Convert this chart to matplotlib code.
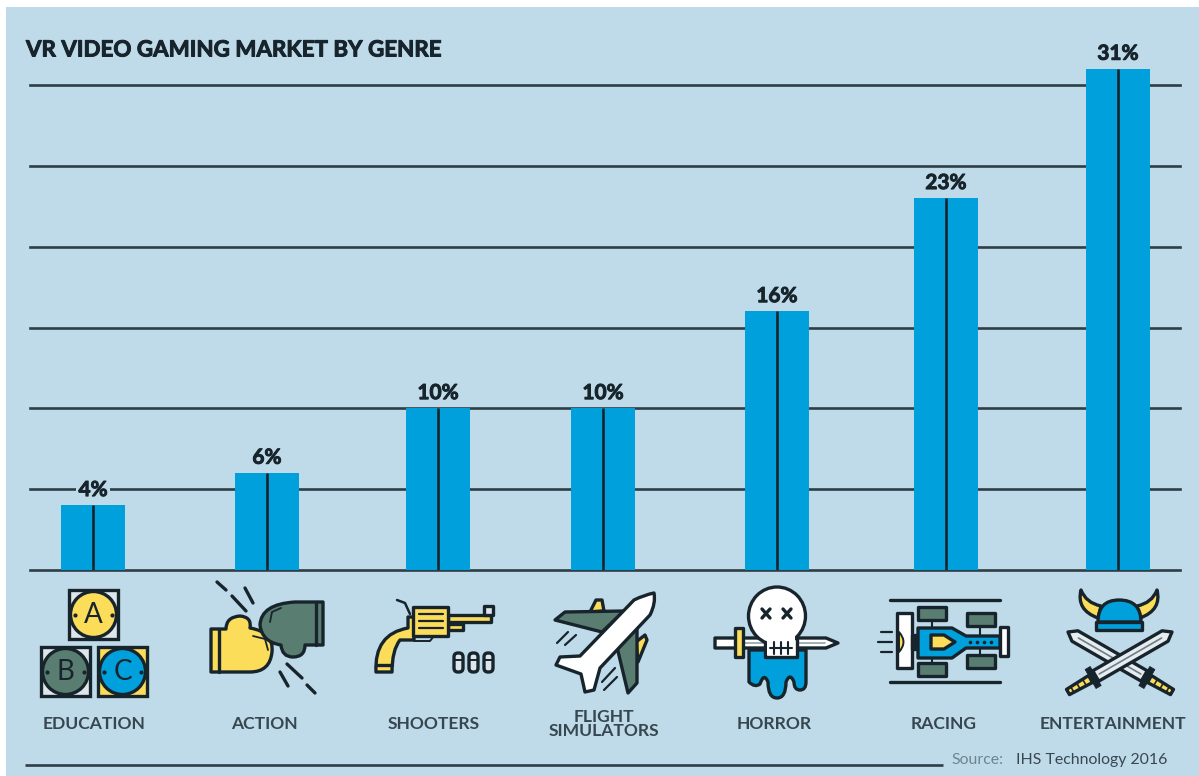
import numpy as np
import matplotlib
matplotlib.use("Agg")
import matplotlib.pyplot as plt
import matplotlib.patheffects as pe
from matplotlib.patches import Rectangle, Polygon, Circle, Ellipse, PathPatch, FancyBboxPatch
from matplotlib.path import Path

plt.rcParams['font.family'] = ['Lato', 'DejaVu Sans']

#chart data
genres = ["EDUCATION", "ACTION", "SHOOTERS", "FLIGHT\nSIMULATORS", "HORROR", "RACING", "ENTERTAINMENT"]
shares = [4, 6, 10, 10, 16, 23, 31]
grid_values = [0, 5, 10, 15, 20, 25, 30]
title = "VR VIDEO GAMING MARKET BY GENRE"

#layout, in pixels of the reference
bar_centers = [93, 267, 438, 603, 777, 946, 1118]
label_centers = [94, 264, 434, 604, 774, 944, 1113]

PANEL = "#BFDBEA"
INK = "#17242C"
GRID = "#2E3E46"
BLUE = "#00A0DC"
YELLOW = "#FBDD5A"
GREEN = "#5A7D72"
WHITE = "#FFFFFF"
LW = 2.4

W, H = 1199, 776
fig = plt.figure(figsize=(W / 100, H / 100), dpi=100, facecolor="white")
fig.patches.append(Rectangle((6 / W, 0), (W - 6) / W, (H - 7) / H, transform=fig.transFigure,
                             facecolor=PANEL, edgecolor="none", zorder=-5))

#data axes: value 0 sits at pixel y=570, 16.16 pixels per percent
px_per_pct = 16.16
ax = fig.add_axes([30 / W, (H - 570) / H, 1150 / W, 516 / H])
ax.patch.set_alpha(0)
ax.set_xlim(30, 1180)
ax.set_ylim(0, 516 / px_per_pct)
ax.set_yticks(grid_values)
ax.set_yticklabels([])
ax.set_xticks([])
ax.tick_params(length=0)
ax.grid(axis="y", color=GRID, linewidth=1.9)
ax.set_axisbelow(True)
for gl in ax.yaxis.get_gridlines():
    gl.set_clip_on(False) #the zero line sits on the axes edge
for s in ax.spines.values():
    s.set_visible(False)

heavy = [pe.withStroke(linewidth=0.7, foreground=INK)]

ax.bar(bar_centers, shares, width=64, color=BLUE, zorder=3)
ax.vlines(bar_centers, 0, shares, color=INK, linewidth=1.9, zorder=4)
for x, v in zip(bar_centers, shares):
    ax.annotate(f"{v}%", (x, v), xytext=(0, 11), textcoords="offset points", ha="center", va="center",
                fontsize=15, fontweight="bold", color=INK, zorder=5, path_effects=heavy,
                bbox=dict(facecolor=PANEL, edgecolor="none", pad=1.5))

#overlay axes in reference pixels, for text and icons
ov = fig.add_axes([0, 0, 1, 1])
ov.set_xlim(0, W)
ov.set_ylim(H, 0)
ov.axis("off")
ov.patch.set_alpha(0)

ov.text(26, 50, title, fontsize=16.1, fontweight="bold", color=INK, va="center", ha="left", path_effects=heavy)
for x, g in zip(label_centers, genres):
    ov.text(x, 724, g, fontsize=12.6, fontweight="bold", color="#37474F", ha="center", va="center", linespacing=0.9)

ov.plot([25, 943], [765, 765], color=GRID, lw=1.9, solid_capstyle="butt")
ov.text(951, 760, "Source:", fontsize=11.4, color="#6E8590", va="center", ha="left")
ov.text(1016, 760, "IHS Technology 2016", fontsize=11.4, color="#37474F", va="center", ha="left")


def poly(pts, fc, lw=LW, z=2):
    p = Polygon(pts, closed=True, facecolor=fc, edgecolor=INK, linewidth=lw, joinstyle="round", zorder=z)
    ov.add_patch(p)


def line(pts, lw=LW, c=INK, z=3):
    xs, ys = zip(*pts)
    ov.plot(xs, ys, color=c, lw=lw, solid_capstyle="round", zorder=z)


def curve(start, segs, fc, lw=LW, z=2, close=True):
    #segs are (ctrl, end) for a bezier or (end,) for a straight piece
    verts, codes = [start], [Path.MOVETO]
    for s in segs:
        if len(s) == 1:
            verts.append(s[0])
            codes.append(Path.LINETO)
        else:
            verts += [s[0], s[1]]
            codes += [Path.CURVE3, Path.CURVE3]
    if close:
        verts.append(start)
        codes.append(Path.CLOSEPOLY)
    ov.add_patch(PathPatch(Path(verts, codes), facecolor=fc, edgecolor=INK, linewidth=lw, joinstyle="round", zorder=z))


#education blocks
def block(x, y, corner, fc, letter):
    ov.add_patch(Rectangle((x, y), 49, 49, facecolor=corner, edgecolor=INK, linewidth=LW, zorder=2))
    ov.add_patch(Circle((x + 24.5, y + 24.5), 23, facecolor=fc, edgecolor=INK, linewidth=LW, zorder=3))
    ov.text(x + 24.5, y + 25, letter, fontsize=20, color=INK, ha="center", va="center", zorder=4)
    ov.plot([x + 6, x + 43], [y + 24.5, y + 24.5], ls="none", marker="o", ms=2, color=INK, zorder=4)


block(69, 590, "#DDE6EA", YELLOW, "A")
block(41, 647, "#DDE6EA", GREEN, "B")
block(98, 647, YELLOW, BLUE, "C")

#action gloves
curve((211, 629), [((226, 629),), ((226, 617), (240, 616)), ((252, 617), (250, 628)),
                   ((274, 632), (272, 652)), ((270, 672), (250, 672)), ((211, 672),)], YELLOW)
line([(219, 629), (219, 672)])
curve((323, 602), [((295, 602),), ((261, 604), (260, 625)), ((262, 642), (281, 645)),
                   ((282, 657), (293, 657)), ((305, 657), (305, 645)), ((323, 645),)], GREEN, z=3)
line([(316, 602), (316, 645)], z=4)
line([(270, 622), (272, 612), (281, 608)], lw=1.3, z=4)
line([(253, 636), (265, 639), (268, 650)], lw=1.3, z=4)
for a, b in [((217, 582), (226, 590)), ((232, 596), (246, 611)), ((245, 588), (253, 603)),
             ((287, 664), (302, 678)), ((280, 672), (288, 686)), ((307, 685), (315, 693))]:
    line([a, b])

#revolver
curve((408, 617), [((414, 617),), ((414, 640),), ((400, 640),), ((392, 650), (392, 672)), ((376, 672),),
                   ((374, 634), (408, 628))], YELLOW)
line([(377, 665), (392, 665)])
poly([(448, 615), (491, 615), (491, 622), (448, 622)], YELLOW)
poly([(448, 624), (463, 624), (463, 630), (448, 630)], YELLOW)
poly([(484, 606), (493, 606), (493, 615), (484, 615)], "#DDE6EA")
poly([(413, 607), (448, 607), (448, 636), (413, 636)], YELLOW)
for yy in [614, 621, 628]:
    line([(419, yy), (443, yy)], lw=1.6)
line([(397, 600), (405, 603), (410, 614)], lw=1.8)
line([(414, 641), (430, 641), (434, 636)], lw=1.4)
for bx in [454, 469, 484]:
    ov.add_patch(FancyBboxPatch((bx, 653), 9, 19, boxstyle="round,pad=0,rounding_size=4", facecolor="#DDE6EA",
                                edgecolor=INK, linewidth=LW, zorder=2))
    line([(bx, 660), (bx + 9, 660)], lw=1.4)

#plane
poly([(590, 612), (596, 600), (602, 600), (604, 611)], YELLOW, z=1)
poly([(636, 642), (645, 635), (647, 640), (638, 662)], YELLOW, z=1)
poly([(555, 620), (565, 612), (624, 611), (602, 632)], GREEN)
poly([(637, 627), (637, 683), (628, 693), (617, 647)], GREEN)
curve((654, 593), [((656, 603), (650, 615)), ((600, 668),), ((594, 690),), ((585, 692),), ((581, 674),),
                   ((556, 665),), ((560, 657),), ((580, 656),), ((634, 600),), ((644, 595), (654, 593))], WHITE, z=3)
for a, b in [((557, 643), (568, 632)), ((565, 645), (576, 635)), ((602, 682), (615, 668)), ((604, 690), (617, 677))]:
    line([a, b], lw=1.6)

#skull and sword
curve((749, 650), [((806, 650),), ((806, 682),), ((806, 690), (800, 690)), ((794, 690), (794, 682)),
                   ((790, 672), (786, 682)), ((786, 698), (777, 698)), ((768, 698), (768, 682)),
                   ((764, 672), (760, 684)), ((755, 688), (749, 682))], BLUE, z=1)
poly([(715, 638), (826, 638), (838, 643), (826, 648), (715, 648)], WHITE, z=2)
line([(743, 643), (825, 643)], lw=1.2, c="#8FA3AC")
poly([(735, 628), (743, 628), (743, 657), (735, 657)], YELLOW, z=3)
poly([(765, 632), (797, 632), (797, 657), (765, 657)], WHITE, z=4)
ov.add_patch(Ellipse((777, 616), 57, 58, facecolor=WHITE, edgecolor=INK, linewidth=LW, zorder=4))
ov.add_patch(Ellipse((781, 630), 30, 30, facecolor=WHITE, edgecolor="none", zorder=5))
ov.add_patch(Rectangle((767, 634), 28, 21, facecolor=WHITE, edgecolor="none", zorder=5))
for ex in [766, 787]:
    line([(ex - 4, 609), (ex + 4, 618)], z=6)
    line([(ex - 4, 618), (ex + 4, 609)], z=6)
line([(770, 648), (792, 648)], lw=1.5, z=6)
for tx in [774, 781, 788]:
    line([(tx, 642), (tx, 654)], lw=1.5, z=6)

#race car
line([(890, 600), (1000, 600)])
line([(890, 682), (1000, 682)])
for wx, wy in [(918, 607), (918, 663), (967, 613), (967, 655)]:
    poly([(wx, wy), (wx + 28, wy), (wx + 28, wy + 13), (wx, wy + 13)], GREEN)
line([(932, 620), (932, 663)], lw=1.5)
line([(980, 627), (980, 655)], lw=1.5)
poly([(897, 613), (912, 613), (912, 668), (897, 668)], WHITE)
poly([(1000, 627), (1008, 627), (1008, 656), (1000, 656)], WHITE)
poly([(912, 635), (918, 635), (918, 649), (912, 649)], INK)
poly([(918, 628), (952, 628), (966, 636), (1000, 636), (1000, 648), (966, 648), (952, 658), (918, 658)], BLUE, z=3)
poly([(931, 635), (944, 635), (955, 642), (944, 649), (931, 649)], YELLOW, z=4)
curve((899, 632), [((908, 642), (899, 652))], YELLOW, lw=1.4, z=4)
for yy, x0 in [(632, 881), (642, 878), (652, 881)]:
    line([(x0, yy), (892, yy)], lw=1.6)
ov.plot([970, 977, 984, 991], [642] * 4, ls="none", marker="o", ms=1.6, color=INK, zorder=5)


#crossed swords
def sword(x0, y0, x1, y1, z):
    #handle end (x0,y0) to tip (x1,y1)
    d = np.array([x1 - x0, y1 - y0], float)
    length = np.hypot(*d)
    u = d / length
    n = np.array([-u[1], u[0]])
    a = np.array([x0, y0], float)

    def at(s, t):
        return tuple(a + u * s + n * t)

    poly([at(32, -6), at(length - 8, -6), at(length, 0), at(length - 8, 6), at(32, 6)], "#E6ECEF", z=z)
    line([at(36, 0), at(length - 12, 0)], lw=1.2, c="#6B7F88", z=z)
    poly([at(0, -3), at(26, -4), at(26, 4), at(0, 3)], YELLOW, z=z)
    poly([at(26, -11), at(32, -11), at(32, 11), at(26, 11)], INK, lw=0.5, z=z)
    for s in [5, 12, 19]:
        line([at(s, -3), at(s, 3)], lw=1.2, z=z)


sword(1172, 692, 1068, 632, 2)
sword(1068, 692, 1172, 632, 3)

#viking helmet
curve((1098, 618), [((1076, 610), (1081, 590)), ((1086, 603), (1101, 606))], YELLOW, z=4)
curve((1140, 618), [((1162, 610), (1157, 590)), ((1152, 603), (1137, 606))], YELLOW, z=4)
curve((1098, 622), [((1098, 600), (1119, 600)), ((1141, 600), (1141, 622))], BLUE, z=5)
poly([(1096, 622), (1142, 622), (1142, 630), (1096, 630)], BLUE, z=5)

fig.savefig("out.png", dpi=100, facecolor=fig.get_facecolor())
